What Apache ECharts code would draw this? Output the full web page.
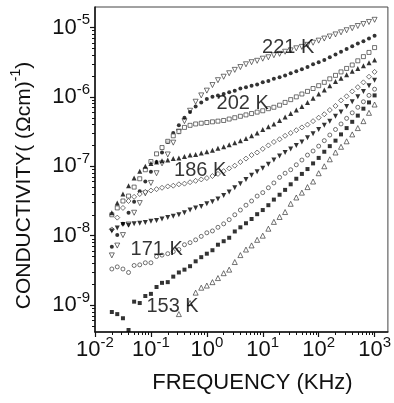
<!DOCTYPE html>
<html><head><meta charset="utf-8">
<script src="https://cdn.jsdelivr.net/npm/echarts@6/dist/echarts.min.js"></script>
<style>html,body{margin:0;padding:0;background:#fff}#c{width:394px;height:403px}</style>
</head><body><div id="c"></div>
<script>
// Frequencies in KHz
const freqKHz = [0.02,0.025,0.0316,0.0398,0.0501,0.0631,0.0794,0.1,0.126,0.158,0.2,0.251,0.316,0.398,0.501,0.631,0.794,1,1.26,1.58,2,2.51,3.16,3.98,5.01,6.31,7.94,10,12.6,15.8,20,25.1,31.6,39.8,50.1,63.1,79.4,100,126,158,200,251,316,398,501,631,794,1000];

// Conductivity (Ohm cm)^-1, one array per temperature
const sigma221 = [5.2e-9,7.2e-9,1.02e-8,1.45e-8,2.14e-8,2.95e-8,4.07e-8,5.75e-8,7.94e-8,1.10e-7,1.48e-7,2.19e-7,3.16e-7,4.47e-7,6.31e-7,8.51e-7,1.05e-6,1.23e-6,1.48e-6,1.74e-6,1.95e-6,2.19e-6,2.45e-6,2.69e-6,2.95e-6,3.16e-6,3.31e-6,3.55e-6,3.72e-6,3.98e-6,4.17e-6,4.47e-6,4.68e-6,5.01e-6,5.25e-6,5.62e-6,6.03e-6,6.46e-6,6.92e-6,7.41e-6,7.94e-6,8.51e-6,9.12e-6,9.77e-6,1.05e-5,1.12e-5,1.20e-5,1.29e-5];
const sigma212 = [6.9e-9,1.02e-8,1.48e-8,2.14e-8,3.09e-8,4.37e-8,6.03e-8,8.32e-8,1.15e-7,1.58e-7,2.24e-7,3.02e-7,3.89e-7,5.01e-7,6.03e-7,7.24e-7,8.32e-7,9.33e-7,1.00e-6,1.05e-6,1.10e-6,1.17e-6,1.23e-6,1.32e-6,1.38e-6,1.45e-6,1.51e-6,1.62e-6,1.70e-6,1.82e-6,1.91e-6,2.04e-6,2.19e-6,2.34e-6,2.51e-6,2.69e-6,2.95e-6,3.16e-6,3.39e-6,3.72e-6,4.07e-6,4.47e-6,4.90e-6,5.37e-6,5.89e-6,6.31e-6,6.92e-6,7.59e-6];
const sigma202 = [2.00e-8,2.51e-8,3.16e-8,3.72e-8,5.01e-8,6.61e-8,8.91e-8,1.17e-7,1.51e-7,1.86e-7,2.29e-7,2.75e-7,3.16e-7,3.63e-7,3.89e-7,4.07e-7,4.17e-7,4.27e-7,4.37e-7,4.47e-7,4.57e-7,4.79e-7,5.01e-7,5.25e-7,5.50e-7,5.75e-7,6.03e-7,6.31e-7,6.76e-7,7.08e-7,7.59e-7,8.32e-7,9.12e-7,1.00e-6,1.10e-6,1.20e-6,1.32e-6,1.45e-6,1.62e-6,1.82e-6,2.04e-6,2.29e-6,2.57e-6,2.88e-6,3.31e-6,3.80e-6,4.37e-6,5.13e-6];
const sigma194 = [2.14e-8,2.95e-8,3.98e-8,5.25e-8,6.76e-8,8.51e-8,1.00e-7,1.10e-7,1.15e-7,1.20e-7,1.23e-7,1.29e-7,1.32e-7,1.38e-7,1.45e-7,1.48e-7,1.55e-7,1.62e-7,1.70e-7,1.82e-7,1.91e-7,2.04e-7,2.19e-7,2.34e-7,2.51e-7,2.75e-7,3.02e-7,3.39e-7,3.72e-7,4.07e-7,4.57e-7,5.13e-7,5.75e-7,6.46e-7,7.24e-7,8.32e-7,9.55e-7,1.10e-6,1.26e-6,1.45e-6,1.66e-6,1.86e-6,2.09e-6,2.34e-6,2.57e-6,2.82e-6,3.09e-6,3.39e-6];
const sigma186 = [1.23e-8,1.82e-8,2.51e-8,3.16e-8,3.63e-8,3.98e-8,4.27e-8,4.47e-8,4.68e-8,4.90e-8,5.13e-8,5.25e-8,5.50e-8,5.62e-8,5.89e-8,6.17e-8,6.46e-8,6.76e-8,7.24e-8,7.76e-8,8.51e-8,9.33e-8,1.02e-7,1.15e-7,1.29e-7,1.45e-7,1.58e-7,1.78e-7,2.00e-7,2.24e-7,2.45e-7,2.75e-7,3.02e-7,3.31e-7,3.63e-7,3.98e-7,4.47e-7,5.01e-7,5.62e-7,6.46e-7,7.41e-7,8.91e-7,1.02e-6,1.20e-6,1.38e-6,1.62e-6,1.95e-6,2.29e-6];
const sigma178 = [1.17e-8,1.29e-8,1.45e-8,1.41e-8,1.48e-8,1.51e-8,1.55e-8,1.62e-8,1.66e-8,1.74e-8,1.82e-8,1.91e-8,2.00e-8,2.14e-8,2.34e-8,2.51e-8,2.63e-8,2.88e-8,3.09e-8,3.39e-8,3.80e-8,4.27e-8,4.90e-8,5.62e-8,6.46e-8,7.41e-8,8.32e-8,9.33e-8,1.07e-7,1.23e-7,1.41e-7,1.58e-7,1.78e-7,2.00e-7,2.24e-7,2.57e-7,2.95e-7,3.39e-7,3.89e-7,4.47e-7,5.25e-7,6.03e-7,7.24e-7,8.51e-7,1.00e-6,1.20e-6,1.45e-6,1.74e-6];
const sigma171 = [3.31e-9,3.55e-9,3.31e-9,2.95e-9,3.72e-9,3.80e-9,4.07e-9,4.07e-9,5.01e-9,5.25e-9,5.50e-9,5.89e-9,6.31e-9,7.41e-9,7.94e-9,8.71e-9,9.77e-9,1.10e-8,1.17e-8,1.32e-8,1.48e-8,1.70e-8,2.00e-8,2.34e-8,2.75e-8,3.16e-8,3.72e-8,4.17e-8,4.90e-8,5.75e-8,6.92e-8,7.94e-8,8.91e-8,1.05e-7,1.23e-7,1.45e-7,1.66e-7,1.95e-7,2.34e-7,2.82e-7,3.39e-7,4.07e-7,4.90e-7,5.89e-7,7.08e-7,8.51e-7,1.05e-6,1.29e-6];
const sigma162 = [7.94e-10,7.41e-10,6.46e-10,4.37e-10,1.12e-9,1.07e-9,1.35e-9,1.45e-9,1.82e-9,2.09e-9,2.14e-9,2.57e-9,2.95e-9,3.24e-9,3.63e-9,4.27e-9,4.90e-9,5.50e-9,6.17e-9,7.41e-9,8.32e-9,9.33e-9,1.15e-8,1.32e-8,1.51e-8,1.74e-8,2.04e-8,2.34e-8,2.75e-8,3.31e-8,3.89e-8,4.57e-8,5.50e-8,6.61e-8,7.76e-8,9.12e-8,1.10e-7,1.32e-7,1.62e-7,1.95e-7,2.34e-7,2.88e-7,3.55e-7,4.37e-7,5.37e-7,6.76e-7,8.32e-7,1.05e-6];
const sigma153 = [null,null,null,null,null,null,null,null,null,null,null,null,7.41e-10,null,1.07e-9,1.51e-9,1.78e-9,1.91e-9,2.14e-9,2.45e-9,2.88e-9,3.24e-9,4.17e-9,5.25e-9,6.31e-9,7.24e-9,8.71e-9,1.00e-8,1.26e-8,1.58e-8,1.86e-8,2.19e-8,2.88e-8,3.55e-8,4.17e-8,5.01e-8,6.03e-8,7.94e-8,1.00e-7,1.26e-7,1.58e-7,1.91e-7,2.29e-7,2.88e-7,3.55e-7,4.47e-7,5.89e-7,7.76e-7];

// Axis tick exponents
const xTickExp = [-2,-1,0,1,2,3];
const yTickExp = [-9,-8,-7,-6,-5];

// Temperature annotations (anchor = left edge of text, vertical middle)
const tempLabels = [
  {text:'221 K', f:9.7,   s:5.1e-6},
  {text:'202 K', f:1.49,  s:7.9e-7},
  {text:'186 K', f:0.259, s:8.8e-8},
  {text:'171 K', f:0.0433,s:6.3e-9},
  {text:'153 K', f:0.083, s:9.7e-10}
];

const seriesDefs = [
  {name:'221 K', data:sigma221, symbol:'triangle', rot:180, filled:false, size:5},
  {name:'212 K', data:sigma212, symbol:'circle',   rot:0,   filled:true,  size:4},
  {name:'202 K', data:sigma202, symbol:'rect',     rot:0,   filled:false, size:4},
  {name:'194 K', data:sigma194, symbol:'triangle', rot:0,   filled:true,  size:5},
  {name:'186 K', data:sigma186, symbol:'diamond',  rot:0,   filled:false, size:5},
  {name:'178 K', data:sigma178, symbol:'triangle', rot:180, filled:true,  size:5},
  {name:'171 K', data:sigma171, symbol:'circle',   rot:0,   filled:false, size:4},
  {name:'162 K', data:sigma162, symbol:'rect',     rot:0,   filled:true,  size:4},
  {name:'153 K', data:sigma153, symbol:'triangle', rot:0,   filled:false, size:5}
];

const lg = Math.log10;
const X_MIN = -2, X_MAX = 3.238, Y_MIN = -9.388, Y_MAX = -4.705;
function minors(lo, hi, a, b){
  const out = [];
  for (let e = lo; e <= hi; e++) for (let k = 2; k <= 9; k++) {
    const v = e + lg(k); if (v > a && v < b) out.push(v);
  }
  return out;
}
const FONT = '"Liberation Sans", Arial, Helvetica, sans-serif';
const INK = '#111';
const richTick = {
  b: {fontSize: 22, lineHeight: 30, fontFamily: FONT, color: INK},
  s: {fontSize: 15, lineHeight: 13, verticalAlign: 'top', fontFamily: FONT, color: INK}
};
const expFmt = v => Number.isInteger(Math.round(v*1000)/1000) && Math.abs(v - Math.round(v)) < 1e-6 ? '{b|10}{s|' + Math.round(v) + '}' : '';

const series = seriesDefs.map(d => ({
  type: 'scatter', name: d.name, symbol: d.symbol, symbolRotate: d.rot, symbolSize: d.size,
  xAxisIndex: 0, yAxisIndex: 0, silent: true,
  itemStyle: d.filled ? {color: '#000'} : {color: '#fff', borderColor: '#222', borderWidth: 0.8},
  data: freqKHz.map((f, i) => d.data[i] == null ? null : [lg(f), lg(d.data[i])]).filter(p => p)
}));
series.push({
  type: 'scatter', symbolSize: 0, silent: true, z: 10,
  data: tempLabels.map(l => ({name: l.text, value: [lg(l.f), lg(l.s)]})),
  label: {show: true, position: 'right', distance: 0, formatter: '{b}', fontSize: 20, fontFamily: FONT, color: '#000'}
});

const chart = echarts.init(document.getElementById('c'), null, {renderer: 'canvas'});
chart.setOption({
  animation: false,
  backgroundColor: '#fff',
  grid: {left: 95, right: 2.5, top: 7, bottom: 71, show: true, borderColor: '#444', borderWidth: 1, backgroundColor: 'transparent'},
  xAxis: [
    {type: 'value', min: X_MIN, max: X_MAX, interval: 1, position: 'bottom',
     axisLine: {show: true, onZero: false, lineStyle: {color: INK, width: 1.5}},
     axisTick: {show: true, inside: false, length: 5, customValues: xTickExp, lineStyle: {color: INK, width: 1.2}},
     axisLabel: {show: true, margin: 3, customValues: xTickExp, formatter: expFmt, rich: richTick},
     splitLine: {show: false},
     name: 'FREQUENCY (KHz)', nameLocation: 'middle', nameGap: 40,
     nameTextStyle: {fontSize: 22, fontFamily: FONT, color: INK, padding: [0, 0, 0, 22]}},
    {type: 'value', min: X_MIN, max: X_MAX, position: 'bottom',
     axisLine: {show: false, onZero: false}, axisLabel: {show: false}, splitLine: {show: false},
     axisTick: {show: true, inside: false, length: 3, customValues: minors(-2, 3, X_MIN, X_MAX), lineStyle: {color: INK, width: 1}}}
  ],
  yAxis: [
    {type: 'value', min: Y_MIN, max: Y_MAX, interval: 1, position: 'left',
     axisLine: {show: true, onZero: false, lineStyle: {color: INK, width: 1.5}},
     axisTick: {show: true, inside: false, length: 5, customValues: yTickExp, lineStyle: {color: INK, width: 1.2}},
     axisLabel: {show: true, margin: 5, customValues: yTickExp, formatter: expFmt, rich: richTick},
     splitLine: {show: false},
     name: 'CONDUCTIVITY( (Ωcm){s|-1})', nameLocation: 'middle', nameGap: 56,
     nameTextStyle: {fontSize: 21, lineHeight: 30, fontFamily: FONT, color: INK, padding: [0, 32, 0, 0],
       rich: {s: {fontSize: 14, lineHeight: 14, verticalAlign: 'top', fontFamily: FONT, color: INK}}}},
    {type: 'value', min: Y_MIN, max: Y_MAX, position: 'left',
     axisLine: {show: false, onZero: false}, axisLabel: {show: false}, splitLine: {show: false},
     axisTick: {show: true, inside: false, length: 3, customValues: minors(-10, -5, Y_MIN, Y_MAX), lineStyle: {color: INK, width: 1}}}
  ],
  series: series
});
</script></body></html>
